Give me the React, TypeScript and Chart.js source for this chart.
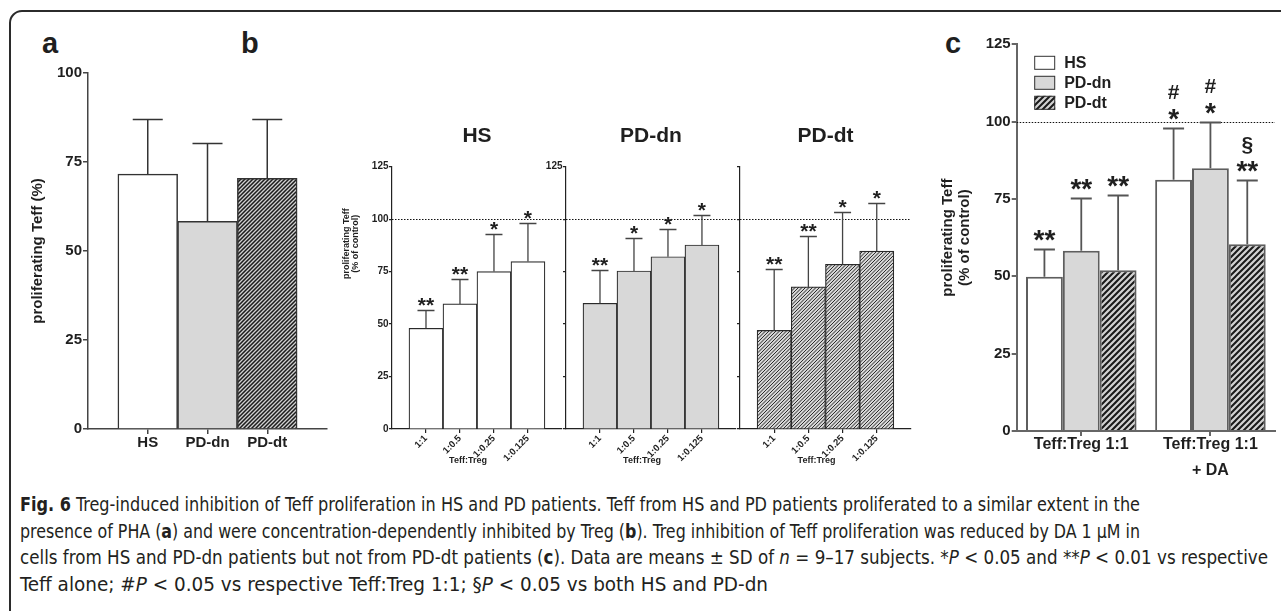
import React, { useEffect, useRef } from 'react';
import { Chart, registerables } from 'chart.js';

Chart.register(...registerables);

const FONT = "'Liberation Sans', Arial, Helvetica, sans-serif";
const CAPTION_FONT = "'Liberation Sans Narrow', 'Arial Narrow', 'DejaVu Sans Condensed', 'DejaVu Sans', sans-serif";
const INK = '#1f1f1f';
const GREY = '#d8d8d8';
const CONTROL = 100;

/* ---- panel a: Teff proliferation with PHA ---- */
const A_GROUPS = ['HS', 'PD-dn', 'PD-dt'];
const A_MEAN = [71.6, 58.3, 70.4];
const A_SD = [15.4, 22.0, 16.8];
const A_TICKS = [0, 25, 50, 75, 100];

/* ---- panel b: Treg titration ---- */
const B_RATIOS = ['1:1', '1:0.5', '1:0.25', '1:0.125'];
const B_HS_MEAN = [48.0, 59.6, 75.0, 79.8];
const B_HS_SD = [8.7, 12.0, 18.1, 18.2];
const B_HS_SIG = ['**', '**', '*', '*'];
const B_DN_MEAN = [59.9, 75.3, 82.1, 87.7];
const B_DN_SD = [15.9, 15.6, 13.1, 14.2];
const B_DN_SIG = ['**', '*', '*', '*'];
const B_DT_MEAN = [47.0, 67.7, 78.5, 84.8];
const B_DT_SD = [29.3, 24.3, 24.9, 22.8];
const B_DT_SIG = ['**', '**', '*', '*'];
const B_TICKS = [0, 25, 50, 75, 100, 125];

/* ---- panel c: Treg suppression with and without DA ---- */
const C_GROUPS = [['Teff:Treg 1:1'], ['Teff:Treg 1:1', '+ DA']];
const C_SERIES = ['HS', 'PD-dn', 'PD-dt'];
const C_HS_MEAN = [49.9, 81.2];
const C_HS_SD = [8.9, 16.7];
const C_HS_SIG = [['**'], ['*', '#']];
const C_DN_MEAN = [58.3, 84.9];
const C_DN_SD = [17.1, 15.1];
const C_DN_SIG = [['**'], ['*', '#']];
const C_DT_MEAN = [52.0, 60.4];
const C_DT_SD = [24.3, 20.6];
const C_DT_SIG = [['**'], ['**', '§']];
const C_TICKS = [0, 25, 50, 75, 100, 125];

const pad = (arr: any[]) => [null, ...arr, null];
const bold = (size: number, lineHeight = 1.2) => ({ family: FONT, size, weight: 'bold' as const, lineHeight });
const hideEnds = (n: number, color: string) => (c: any) =>
  c.index === 0 || c.index === n - 1 ? 'rgba(0,0,0,0)' : color;

// diagonal "/" hatch fill
function hatch(period: number, tile: number, width: number, bg: string, fg: string) {
  const c = document.createElement('canvas');
  c.width = tile;
  c.height = tile;
  const g = c.getContext('2d')!;
  g.fillStyle = bg;
  g.fillRect(0, 0, tile, tile);
  g.strokeStyle = fg;
  g.lineWidth = width;
  g.beginPath();
  for (let k = -period; k <= 2 * tile + period; k += period) {
    g.moveTo(k + 3, -3);
    g.lineTo(k - tile - 3, tile + 3);
  }
  g.stroke();
  return g.createPattern(c, 'repeat');
}

type Level = { size: number; dy: number };

// one-sided SD whiskers plus significance symbols stacked above the cap
function errorBars(sd: any[][], cap: number, color: string, width: number, sig?: any[][], levels?: Level[]) {
  return {
    id: 'errorBars',
    afterDatasetsDraw(chart: any) {
      const { ctx } = chart;
      const ys = chart.scales.y;
      ctx.save();
      chart.data.datasets.forEach((ds: any, d: number) => {
        chart.getDatasetMeta(d).data.forEach((bar: any, i: number) => {
          const m = ds.data[i];
          const s = sd[d][i];
          if (m == null || s == null) return;
          const top = Math.round(ys.getPixelForValue(m + s)) + 0.5;
          ctx.strokeStyle = color;
          ctx.lineWidth = width;
          ctx.beginPath();
          ctx.moveTo(bar.x, bar.y);
          ctx.lineTo(bar.x, top);
          ctx.moveTo(bar.x - cap / 2, top);
          ctx.lineTo(bar.x + cap / 2, top);
          ctx.stroke();
          const marks = sig ? sig[d][i] : null;
          if (marks && levels) {
            ctx.fillStyle = INK;
            ctx.textAlign = 'center';
            ctx.textBaseline = 'alphabetic';
            marks.forEach((t: string, k: number) => {
              ctx.font = `bold ${levels[k].size}px ${FONT}`;
              ctx.fillText(t, bar.x, top + levels[k].dy);
            });
          }
        });
      });
      ctx.restore();
    },
  };
}

// dotted 100 % (control) line
function refLine(value: number, dash: number[], color: string, width: number) {
  return {
    id: 'refLine',
    beforeDatasetsDraw(chart: any) {
      const { ctx, chartArea } = chart;
      const y = Math.round(chart.scales.y.getPixelForValue(value)) + 0.5;
      ctx.save();
      ctx.strokeStyle = color;
      ctx.lineWidth = width;
      ctx.setLineDash(dash);
      ctx.beginPath();
      ctx.moveTo(chartArea.left, y);
      ctx.lineTo(chartArea.right, y);
      ctx.stroke();
      ctx.restore();
    },
  };
}

type Label = { text: string; size: number; x: (a: any) => number; y: (a: any) => number; rotate?: boolean };

function texts(items: Label[]) {
  return {
    id: 'texts',
    afterDraw(chart: any) {
      const { ctx, chartArea } = chart;
      ctx.save();
      ctx.fillStyle = INK;
      ctx.textAlign = 'center';
      ctx.textBaseline = 'middle';
      items.forEach((it) => {
        ctx.font = `bold ${it.size}px ${FONT}`;
        const x = it.x(chartArea);
        const y = it.y(chartArea);
        if (it.rotate) {
          ctx.save();
          ctx.translate(x, y);
          ctx.rotate(-Math.PI / 2);
          ctx.fillText(it.text, 0, 0);
          ctx.restore();
        } else {
          ctx.fillText(it.text, x, y);
        }
      });
      ctx.restore();
    },
  };
}

// boxed legend inside the plot area of panel c
const boxLegend = {
  id: 'boxLegend',
  afterDraw(chart: any) {
    const { ctx, chartArea } = chart;
    ctx.save();
    chart.data.datasets.forEach((ds: any, i: number) => {
      const x = chartArea.left + 17.5;
      const y = chartArea.top + 11.5 + i * 20;
      ctx.fillStyle = ds.backgroundColor;
      ctx.fillRect(x, y, 21, 14);
      ctx.strokeStyle = '#333';
      ctx.lineWidth = 1;
      ctx.strokeRect(x + 0.5, y + 0.5, 20, 13);
      ctx.fillStyle = INK;
      ctx.font = `bold 16px ${FONT}`;
      ctx.textAlign = 'left';
      ctx.textBaseline = 'middle';
      ctx.fillText(ds.label, x + 30, y + 7.5);
    });
    ctx.restore();
  },
};

const common = {
  animation: false,
  responsive: false,
  events: [],
  plugins: { legend: { display: false }, tooltip: { enabled: false } },
};

function makeA() {
  const labels = ['', ...A_GROUPS, ''];
  const fills = ['#ffffff', GREY, hatch(4, 8, 1.5, '#d0d0d0', '#1c1c1c')];
  return {
    type: 'bar',
    data: {
      labels,
      datasets: [
        {
          data: pad(A_MEAN),
          backgroundColor: pad(fills),
          borderColor: '#333',
          borderWidth: 1.5,
          barPercentage: 1,
          categoryPercentage: 1,
        },
      ],
    },
    options: {
      ...common,
      layout: { padding: { top: 73, right: 13, bottom: 0, left: 0 } },
      scales: {
        x: {
          offset: false,
          grid: { offset: false, drawOnChartArea: false, tickLength: 5, lineWidth: 1.5, color: hideEnds(labels.length, '#444') },
          border: { color: '#444', width: 1.5 },
          ticks: { autoSkip: false, minRotation: 0, maxRotation: 0, padding: 0, color: INK, font: bold(15) },
          afterFit: (s: any) => { s.height = 51; },
        },
        y: {
          min: 0,
          max: 100,
          afterBuildTicks: (s: any) => { s.ticks = A_TICKS.map((v) => ({ value: v })); },
          grid: { drawOnChartArea: false, tickLength: 5, lineWidth: 1.5, color: '#444' },
          border: { color: '#444', width: 1.5 },
          ticks: { padding: 1, color: INK, font: bold(15) },
          title: { display: true, text: 'proliferating Teff (%)', color: INK, font: bold(15), padding: { top: 29, bottom: 0 } },
          afterFit: (s: any) => { s.width = 88; },
        },
      },
    },
    plugins: [errorBars([pad(A_SD)], 30, '#333', 1.5)],
  };
}

function makeB(p: { name: string; mean: number[]; sd: number[]; sig: string[]; fill: any; labels: 'all' | 'top' | 'none'; yWidth: number; yTitle: boolean }) {
  const labels = ['', ...B_RATIOS, ''];
  const items: Label[] = [
    { text: p.name, size: 21, x: (a) => (a.left + a.right) / 2, y: (a) => a.top - 30 },
    { text: 'Teff:Treg', size: 9, x: (a) => (a.left + a.right) / 2 - 9, y: (a) => a.bottom + 32 },
  ];
  if (p.yTitle) {
    items.push(
      { text: 'proliferating Teff', size: 9, x: (a) => a.left - 45, y: (a) => a.top + 77, rotate: true },
      { text: '(% of control)', size: 9, x: (a) => a.left - 36.5, y: (a) => a.top + 77, rotate: true },
    );
  }
  return {
    type: 'bar',
    data: {
      labels,
      datasets: [
        {
          data: pad(p.mean),
          backgroundColor: p.fill,
          borderColor: '#2a2a2a',
          borderWidth: 1.2,
          barPercentage: 1,
          categoryPercentage: 1,
        },
      ],
    },
    options: {
      ...common,
      layout: { padding: { top: 66.7, right: 4, bottom: 0, left: 0 } },
      scales: {
        x: {
          offset: false,
          grid: { offset: false, drawOnChartArea: false, tickLength: 4, lineWidth: 1.2, color: hideEnds(labels.length, '#222') },
          border: { color: '#222', width: 1.2 },
          ticks: { autoSkip: false, minRotation: 45, maxRotation: 45, padding: 0, color: INK, font: bold(9.5) },
          afterFit: (s: any) => { s.height = 51; },
        },
        y: {
          min: 0,
          max: 125,
          afterBuildTicks: (s: any) => { s.ticks = B_TICKS.map((v) => ({ value: v })); },
          grid: { drawOnChartArea: false, tickLength: 3, lineWidth: 1.2, color: '#222' },
          border: { color: '#222', width: 1.2 },
          ticks: {
            padding: 0.5,
            color: INK,
            font: bold(10),
            callback: (v: number) => (p.labels === 'all' || (p.labels === 'top' && v === 125) ? String(v) : ''),
          },
          afterFit: (s: any) => { s.width = p.yWidth; },
        },
      },
    },
    plugins: [
      refLine(CONTROL, [1.5, 1.5], '#111', 1.1),
      errorBars([pad(p.sd)], 17, '#444', 1.3, [pad(p.sig.map((s) => [s]))], [{ size: 21, dy: 1.5 }]),
      texts(items),
    ],
  };
}

function makeC() {
  const fills = ['#ffffff', GREY, hatch(6, 12, 2, '#d2d2d2', '#1a1a1a')];
  const means = [C_HS_MEAN, C_DN_MEAN, C_DT_MEAN];
  const sds = [C_HS_SD, C_DN_SD, C_DT_SD];
  const sigs = [C_HS_SIG, C_DN_SIG, C_DT_SIG];
  return {
    type: 'bar',
    data: {
      labels: C_GROUPS,
      datasets: C_SERIES.map((label, d) => ({
        label,
        data: means[d],
        backgroundColor: fills[d],
        borderColor: '#5e5e5e',
        borderWidth: 2,
        barPercentage: 1,
        categoryPercentage: 0.856,
      })),
    },
    options: {
      ...common,
      layout: { padding: { top: 44.3, right: 6, bottom: 0, left: 0 } },
      scales: {
        x: {
          grid: { offset: false, drawOnChartArea: false, tickLength: 5, lineWidth: 2, color: '#666' },
          border: { color: '#666', width: 2 },
          ticks: { autoSkip: false, minRotation: 0, maxRotation: 0, padding: -4, color: INK, font: bold(16, 1.625) },
          afterFit: (s: any) => { s.height = 69; },
        },
        y: {
          min: 0,
          max: 125,
          afterBuildTicks: (s: any) => { s.ticks = C_TICKS.map((v) => ({ value: v })); },
          grid: { drawOnChartArea: false, tickLength: 5, lineWidth: 2, color: '#666' },
          border: { color: '#666', width: 2 },
          ticks: { padding: 1, color: INK, font: bold(15) },
          title: {
            display: true,
            text: ['proliferating Teff', '(% of control)'],
            color: INK,
            font: bold(15, 1.15),
            padding: { top: 39.4, bottom: 0 },
          },
          afterFit: (s: any) => { s.width = 116.7; },
        },
      },
    },
    plugins: [
      refLine(CONTROL, [1.5, 1.5], '#111', 1.2),
      errorBars(sds, 21, '#555', 1.8, sigs, [{ size: 28, dy: -1 }, { size: 21, dy: -30 }]),
      boxLegend,
    ],
  };
}

function ChartBox({ left, top, width, height, make }: { left: number; top: number; width: number; height: number; make: () => any }) {
  const ref = useRef<HTMLCanvasElement>(null);
  useEffect(() => {
    const chart = new Chart(ref.current as HTMLCanvasElement, make());
    return () => chart.destroy();
  }, []);
  return (
    <canvas
      ref={ref}
      width={width}
      height={height}
      style={{ position: 'absolute', left, top, width, height }}
    />
  );
}

const hatchB = () => hatch(3.5, 7, 0.95, '#d6d6d6', '#222222');

export default function App() {
  return (
    <div style={{ position: 'absolute', left: 0, top: 0, width: 1281, height: 611, overflow: 'hidden', background: '#fff' }}>
      <svg width={1281} height={611} style={{ position: 'absolute', left: 0, top: 0 }}>
        <rect x={10} y={11} width={1290} height={620} rx={12} ry={12} fill="none" stroke="#2b2b2b" strokeWidth={2} />
        <g fontFamily={FONT} fontWeight="bold" fontSize={29} fill={INK}>
          <text x={42} y={53}>a</text>
          <text x={241} y={53}>b</text>
          <text x={945} y={53}>c</text>
        </g>
        <g fontFamily={CAPTION_FONT} fontStretch="condensed" fontSize={19} fill="#231f20">
          <text x={20} y={511} textLength={1120} lengthAdjust="spacingAndGlyphs">
            <tspan fontWeight="bold">Fig. 6</tspan> Treg-induced inhibition of Teff proliferation in HS and PD patients. Teff from HS and PD patients proliferated to a similar extent in the
          </text>
          <text x={20} y={538} textLength={1120} lengthAdjust="spacingAndGlyphs">
            presence of PHA (<tspan fontWeight="bold">a</tspan>) and were concentration-dependently inhibited by Treg (<tspan fontWeight="bold">b</tspan>). Treg inhibition of Teff proliferation was reduced by DA 1 μM in
          </text>
          <text x={20} y={564} textLength={1248} lengthAdjust="spacingAndGlyphs">
            cells from HS and PD-dn patients but not from PD-dt patients (<tspan fontWeight="bold">c</tspan>). Data are means ± SD of <tspan fontStyle="italic">n</tspan> = 9–17 subjects. *<tspan fontStyle="italic">P</tspan> &lt; 0.05 and **<tspan fontStyle="italic">P</tspan> &lt; 0.01 vs respective
          </text>
          <text x={20} y={591} textLength={748} lengthAdjust="spacingAndGlyphs">
            Teff alone; #<tspan fontStyle="italic">P</tspan> &lt; 0.05 vs respective Teff:Treg 1:1; §<tspan fontStyle="italic">P</tspan> &lt; 0.05 vs both HS and PD-dn
          </text>
        </g>
      </svg>
      <ChartBox left={0} top={0} width={340} height={480} make={makeA} />
      <ChartBox
        left={320}
        top={100}
        width={250}
        height={380}
        make={() => makeB({ name: 'HS', mean: B_HS_MEAN, sd: B_HS_SD, sig: B_HS_SIG, fill: '#ffffff', labels: 'all', yWidth: 72, yTitle: true })}
      />
      <ChartBox
        left={526}
        top={100}
        width={218}
        height={380}
        make={() => makeB({ name: 'PD-dn', mean: B_DN_MEAN, sd: B_DN_SD, sig: B_DN_SIG, fill: GREY, labels: 'top', yWidth: 40, yTitle: false })}
      />
      <ChartBox
        left={720}
        top={100}
        width={199}
        height={380}
        make={() => makeB({ name: 'PD-dt', mean: B_DT_MEAN, sd: B_DT_SD, sig: B_DT_SIG, fill: hatchB(), labels: 'none', yWidth: 20, yTitle: false })}
      />
      <ChartBox left={900} top={0} width={381} height={500} make={makeC} />
    </div>
  );
}
